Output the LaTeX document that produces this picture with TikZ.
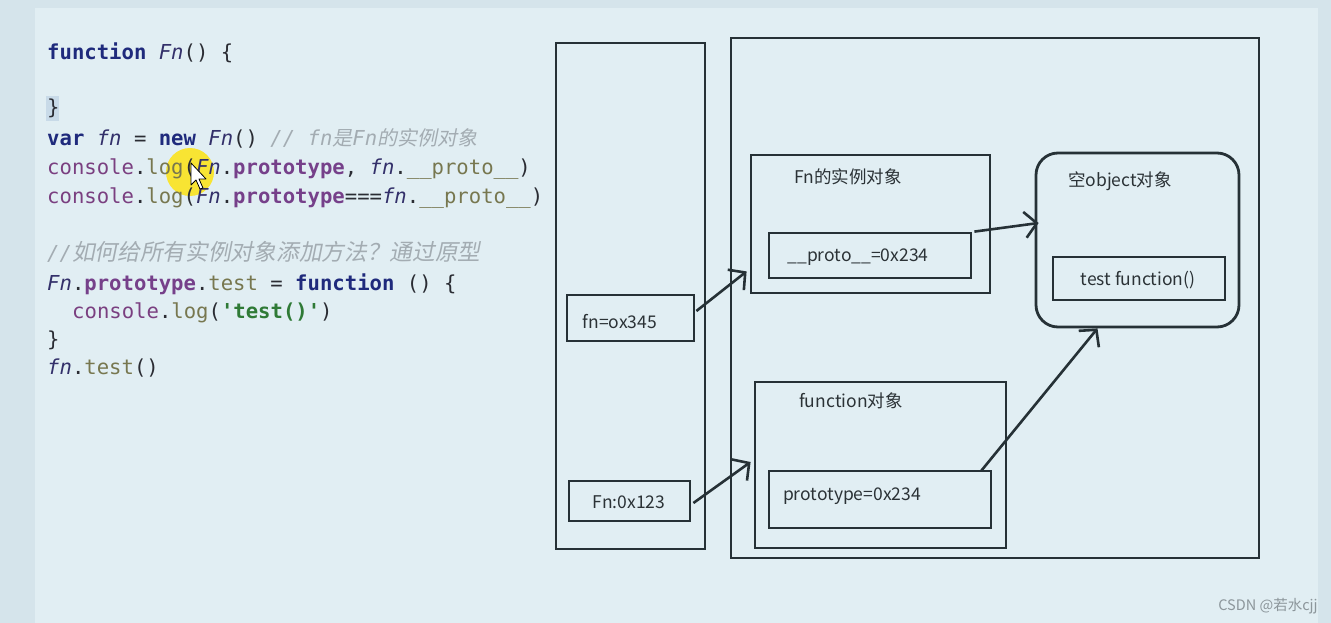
\documentclass[tikz,border=0pt]{standalone}
\usepackage{fontspec}
\usetikzlibrary{arrows.meta,positioning,calc}
\setmonofont{DejaVu Sans Mono}
\newfontfamily\boxfont{Noto Sans CJK SC}
\newfontfamily\cjkit[FakeSlant=0.2]{Noto Sans CJK SC}

\definecolor{pagebg}{HTML}{D5E4EB}
\definecolor{panelbg}{HTML}{E1EEF3}
\definecolor{boxline}{HTML}{263136}
\definecolor{labeltext}{HTML}{2B3236}
\definecolor{kwblue}{HTML}{1F2A7C}
\definecolor{idcol}{HTML}{33306A}
\definecolor{conscol}{HTML}{7A3F80}
\definecolor{methcol}{HTML}{77774F}
\definecolor{propcol}{HTML}{76408A}
\definecolor{strcol}{HTML}{2F7A36}
\definecolor{cmtcol}{HTML}{A3ACB2}
\definecolor{punct}{HTML}{2A2C33}
\definecolor{selbg}{HTML}{C8DAE8}
\definecolor{marktxt}{HTML}{8C969B}

\newcommand\kwd[1]{\textcolor{kwblue}{\bfseries #1}}
\newcommand\idf[1]{\textcolor{idcol}{\itshape #1}}
\newcommand\cns[1]{\textcolor{conscol}{#1}}
\newcommand\mth[1]{\textcolor{methcol}{#1}}
\newcommand\prp[1]{\textcolor{propcol}{\bfseries #1}}
\newcommand\strg[1]{\textcolor{strcol}{\bfseries #1}}
\newcommand\cmt[1]{\textcolor{cmtcol}{\itshape #1}}

\begin{document}
\begin{tikzpicture}[x=1pt,y=-1pt,
	box/.style={draw=boxline,line width=2.8pt,inner sep=0pt},
	lbl/.style={inner sep=0pt,text=labeltext,font=\boxfont\fontsize{17.5}{19}\selectfont},
	ref/.style={draw=boxline,line width=2.6pt,-{Straight Barb[length=12pt,width=26pt,line width=2.6pt]}},
	code/.style={anchor=base west,inner sep=0pt,text=punct,font=\ttfamily\fontsize{20.6}{28}\selectfont}]
	\useasboundingbox (0,0) rectangle (1331,623);
	\fill[pagebg] (0,0) rectangle (1331,623);
	\fill[panelbg] (35,8) rectangle (1318,623);

	% code
	\fill[selbg] (46,96) rectangle (59,121);
	\fill[yellow!85!orange,opacity=0.8] (190,172) circle (24);
	\node[code] (l1) at (47,60) {\kwd{function} \idf{Fn}() \{};
	\node[code] (l2) at (47,115) {\}};
	\node[code] (l3) at (47,146) {\kwd{var} \idf{fn} = \kwd{new} \idf{Fn}() \cmt{// fn{\cjkit\fontsize{20}{20}\selectfont 是}Fn{\cjkit\fontsize{20}{20}\selectfont 的实例对象}}};
	\node[code] (l4) at (47,175) {\cns{console}.\mth{log}(\idf{Fn}.\prp{prototype}, \idf{fn}.\mth{\_\_proto\_\_})};
	\node[code] (l5) at (47,203) {\cns{console}.\mth{log}(\idf{Fn}.\prp{prototype}===\idf{fn}.\mth{\_\_proto\_\_})};
	\node[code] (l6) at (47,260) {\cmt{//{\cjkit\fontsize{22.7}{22}\selectfont 如何给所有实例对象添加方法？通过原型}}};
	\node[code] (l7) at (47,290) {\idf{Fn}.\prp{prototype}.\mth{test} = \kwd{function} () \{};
	\node[code] (l8) at (72,318) {\cns{console}.\mth{log}(\strg{'test()'})};
	\node[code] (l9) at (47,346) {\}};
	\node[code] (l10) at (47,374) {\idf{fn}.\mth{test}()};
	\draw[black,fill=white,line width=0.8pt,line join=round] (191,163) -- (191,185) -- (196,180) -- (200,189) -- (203,188) -- (199,179) -- (206,179) -- cycle;

	% memory
	\node[box,minimum width=149pt,minimum height=506pt] (stack) at (630.5,296) {};
	\node[box,minimum width=528pt,minimum height=520pt] (heap) at (995,298) {};
	\node[box,minimum width=239pt,minimum height=138pt] (inst) at (870.5,224) {};
	\node[box,minimum width=202pt,minimum height=45pt] (proto) at (870,255.5) {};
	\node[box,rounded corners=22pt,minimum width=203pt,minimum height=174pt] (emptyobj) at (1137.5,240) {};
	\node[box,minimum width=172pt,minimum height=43pt] (testfn) at (1139,278.5) {};
	\node[box,minimum width=127pt,minimum height=46pt] (fnref) at (630.5,318) {};
	\node[box,minimum width=251pt,minimum height=166pt] (fnobj) at (880.5,465) {};
	\node[box,minimum width=222pt,minimum height=57pt] (prototype) at (880,499.5) {};
	\node[box,minimum width=121pt,minimum height=40pt] (Fnref) at (629.5,501) {};

	\node[lbl] (instlbl) at (848,177) {Fn的实例对象};
	\node[lbl] (protolbl) at (858,257) {\_\_proto\_\_=0x234};
	\node[lbl] (emptylbl) at (1120,181) {空object对象};
	\node[lbl] (testlbl) at (1138,280) {test function()};
	\node[lbl] (fnlbl) at (620,322) {fn=ox345};
	\node[lbl] (fnobjlbl) at (851,401) {function对象};
	\node[lbl] (prototypelbl) at (852,496) {prototype=0x234};
	\node[lbl] (Fnlbl) at (629,502) {Fn:0x123};

	\draw[ref] ($(fnref.east)+(1,-7)$) -- ($(inst.south west)+(-3,-23)$);
	\draw[ref] ($(proto.north east)+(2,0)$) -- ($(emptyobj.west)+(4,-17)$);
	\draw[ref] ($(Fnref.east)+(2,2)$) -- ($(fnobj.west)+(-3,-3)$);
	\draw[ref] ($(prototype.north east)+(-11,1)$) -- ($(emptyobj.south)+(-40,0)$);

	\node[text=marktxt,font=\boxfont\fontsize{14.5}{16}\selectfont] (mark) at (1268,606) {CSDN @若水cjj};
\end{tikzpicture}
\end{document}
